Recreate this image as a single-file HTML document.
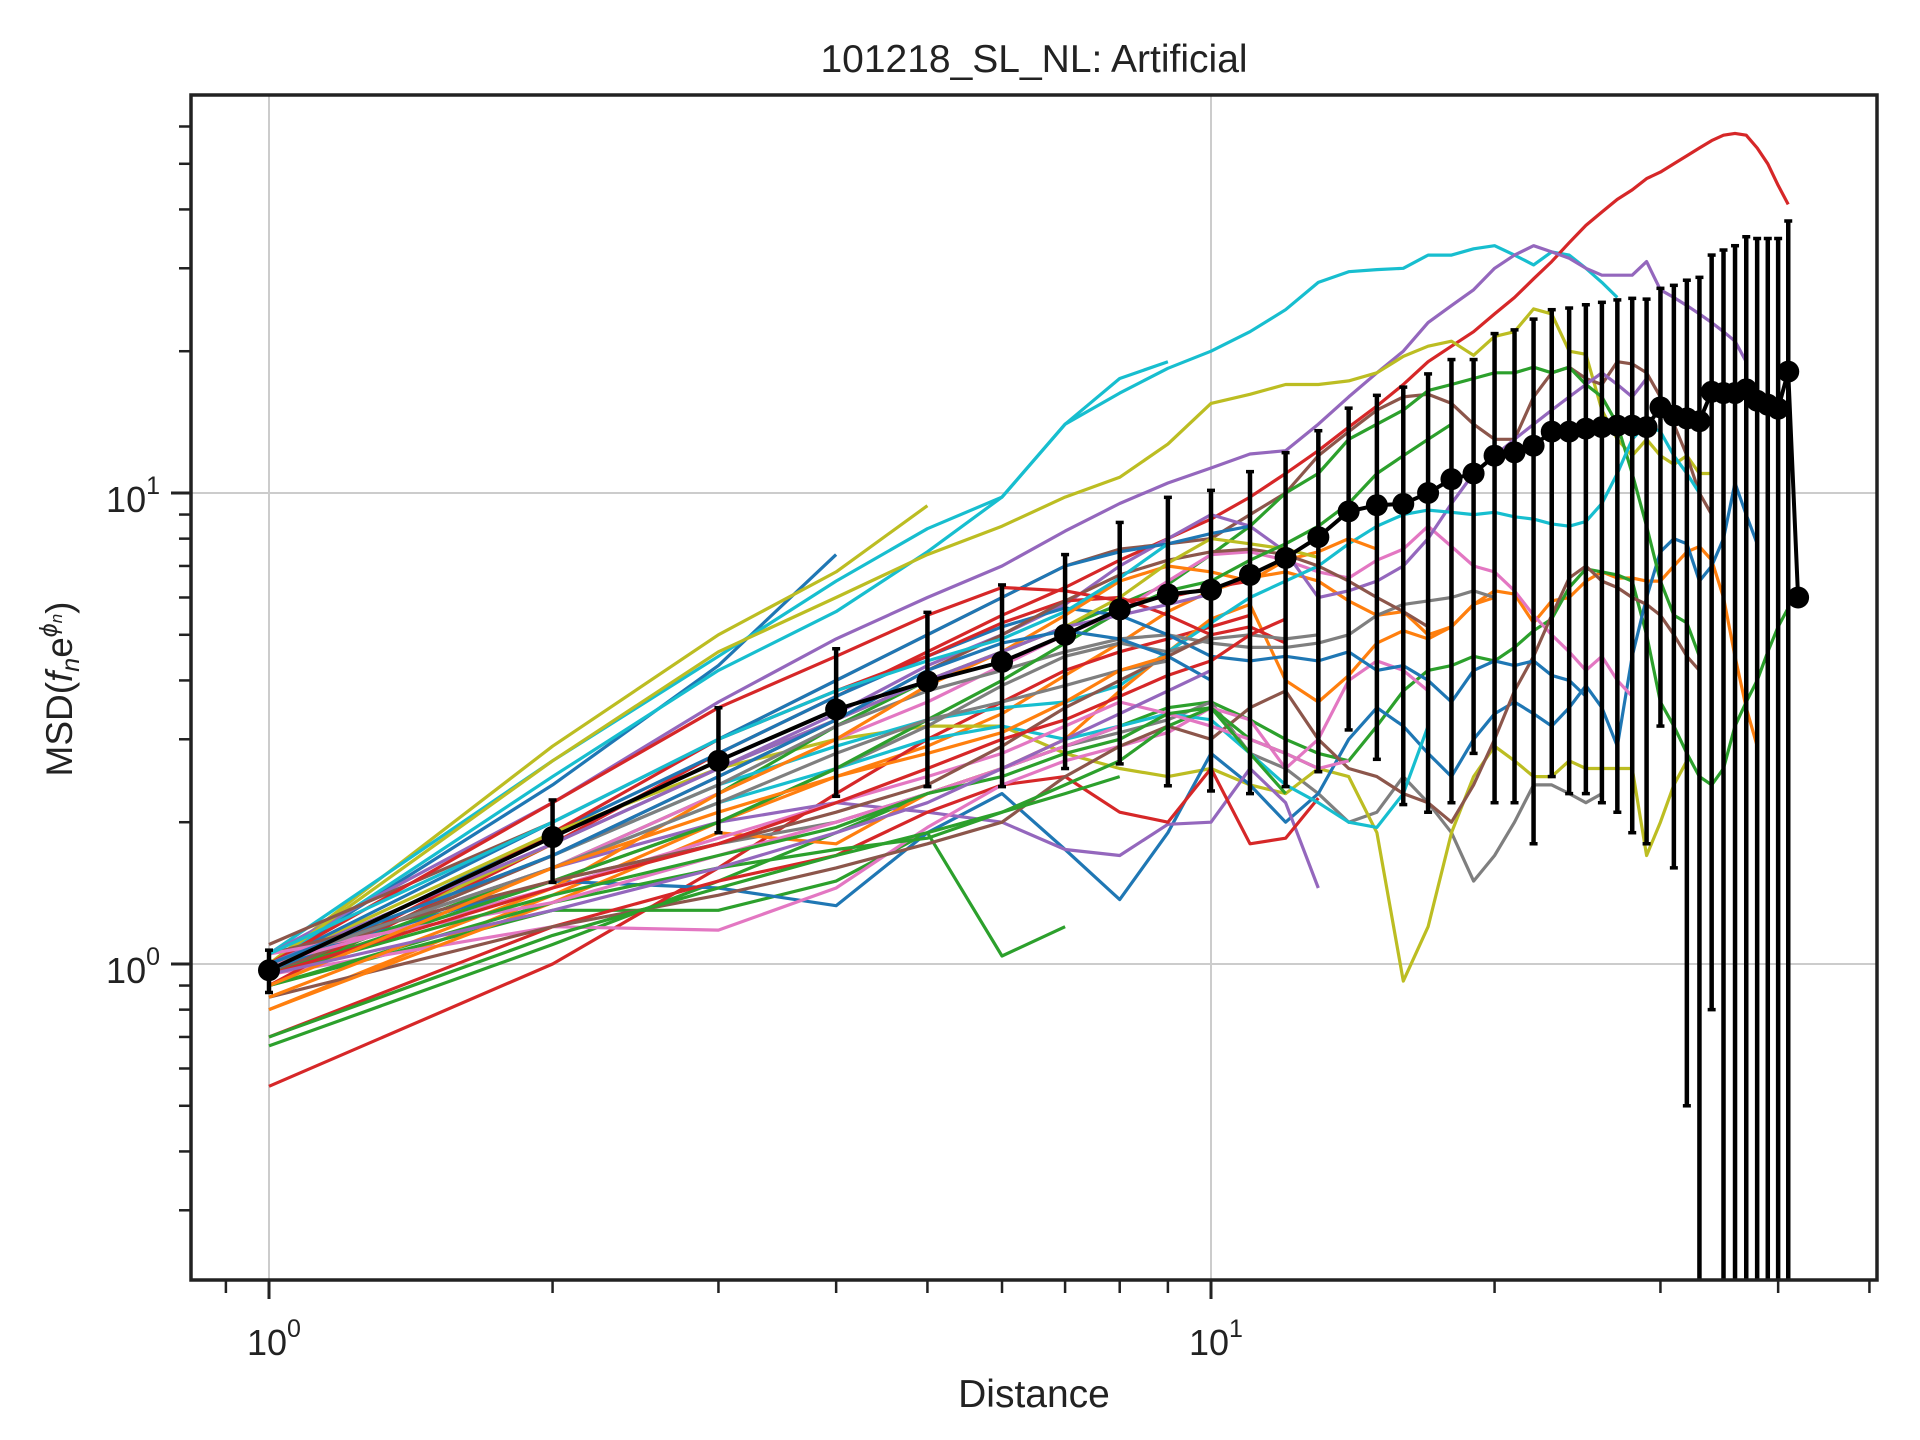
<!DOCTYPE html>
<html><head><meta charset="utf-8">
<style>
html,body{margin:0;padding:0;background:#fff;}
svg{display:block;font-family:"Liberation Sans","DejaVu Sans",sans-serif;}
</style></head>
<body>
<svg id="chart" width="1920" height="1440" viewBox="0 0 1920 1440" xmlns="http://www.w3.org/2000/svg">
<rect width="1920" height="1440" fill="#fff"/>
<text x="1034" y="72" font-size="39" text-anchor="middle" fill="#222">101218_SL_NL: Artificial</text>
<text x="1034" y="1407" font-size="39" text-anchor="middle" fill="#222">Distance</text>
<text transform="translate(72,689) rotate(-90)" font-size="37" text-anchor="middle" fill="#222">MSD(<tspan font-style="italic">f</tspan><tspan font-style="italic" font-size="25" dy="7">n</tspan><tspan dy="-7">e</tspan><tspan font-style="italic" font-size="25" dy="-15">ϕ</tspan><tspan font-style="italic" font-size="17" dy="5">n</tspan><tspan dy="10">)</tspan></text>
<g id="grid"></g>
<g id="series"></g>
<g id="mean"></g>
<g id="axes"></g>
</svg>
<script>
const meanX=[1,2,3,4,5,6,7,8,9,10,11,12,13,14,15,16,17,18,19,20,21,22,23,24,25,26,27,28,29,30,31,32,33,34,35,36,37,38,39,40,41,42];
const meanY=[0.97,1.86,2.7,3.47,3.98,4.38,5.0,5.66,6.09,6.23,6.7,7.28,8.06,9.14,9.42,9.48,10.0,10.7,11.0,12.0,12.2,12.6,13.5,13.5,13.7,13.8,13.9,13.9,13.8,15.2,14.6,14.4,14.2,16.4,16.3,16.3,16.6,15.7,15.4,15.1,18.1,6.0];
const meanErr=[0.1,0.37,0.8,1.2,1.6,2.0,2.4,3.0,3.7,3.9,4.4,4.9,5.5,6.0,6.7,7.3,7.9,8.5,8.2,9.8,10,10.8,11,11.2,11.4,11.6,11.8,12,12,12,13,13.9,14.5,15.6,16.5,17.2,18.4,19,19.3,19.6,19.7,0];
const xTickVals=[1,10];
const yTickVals=[1,10];
const seriesValues=[
[1.0,2.4,4.3,7.4],
[0.8,1.4,2.0,2.5,2.9,3.4,4.1,4.8,5.6,6.2,6.6,6.8,6.5,5.9,5.5,5.6,5.0,5.2,5.8,6.2,6.1,5.3,5.9,6.0,6.5,6.8,6.6,6.6,6.5,6.5,7.0,7.5,7.7,7.2,6.0,4.5,3.5,2.9],
[0.67,1.1,1.5,1.9,2.3,2.6,2.9,3.2,3.5,3.6,3.3,3.0,2.8,2.7,3.2,3.8,4.2,4.3,4.5,4.4,4.7,5.1,5.4,6.3,6.9,6.8,6.7,6.5,5.0,3.6,3.2,2.8,2.5,2.4,2.6,3.2,3.6,4.0,4.6,5.2,5.7],
[0.55,1.0,1.6,2.3,3.0,3.6,4.2,4.6,4.9,5.2,5.5],
[1.0,2.9,5.0,6.8,9.4],
[1.05,2.7,4.5,6.5,8.4,9.8,14,17.5,19],
[1.0,2.5,4.2,5.6,7.5,9.8,14,16.3,18.4,20,22,24.5,28,29.5,29.8,30,32,32,33,33.5,32,30.5,32.5,32,30,28,26],
[0.9,1.8,2.8,3.7,4.6,5.5,6.3,7.2,8.0,8.8,9.8,11,12.3,13.8,15.3,17,19,20.5,22,24,26,28.5,31,34,37,39.5,42,44,46.5,48,50,52,54,56,57.5,58,57.5,54,50,45,41],
[1.05,2.2,3.6,4.9,6.0,7.0,8.3,9.5,10.5,11.3,12.1,12.3,14,16,18,20,23,25,27,30,32,33.5,32.5,31.5,30,29,29,29,31,27,26,25,24,23,22,21,19],
[1.0,2.7,4.6,6.0,7.4,8.5,9.8,10.8,12.7,15.5,16.2,17,17,17.3,18,19.5,20.5,21,19.6,21.5,22,24.6,24,20,19.7,15,13,12,13,12,11.5,12,11,11],
[1.0,1.5,1.8,2.0,2.3,2.6,2.9,3.1,3.3,3.6,2.8,2.6,2.3,2.0,2.1,2.5,2.2,1.9,1.5,1.7,2.0,2.4,2.4,2.3,2.2,2.3],
[0.95,1.8,2.6,3.0,3.2,3.2,2.8,2.6,2.5,2.6,2.4,2.3,2.6,2.5,1.9,0.92,1.2,1.9,2.5,2.9,2.7,2.5,2.5,2.7,2.6,2.6,2.6,2.6,1.7,2.0,2.4,2.7],
[0.9,1.3,1.3,1.5,1.9,1.04,1.2],
[1.0,1.5,1.45,1.33,1.9,2.3,1.75,1.37,1.9,2.8,2.4,2.0,2.3,3.0,3.5,3.2,2.8,2.5,3.0,3.4,3.6,3.4,3.2,3.5,3.9,3.5,2.9,4.5,6.0,7.5,8.0,7.8,6.5,7.0,8.0,10.5,9.0,7.8],
[1.0,1.6,2.0,2.2,2.1,2.0,1.75,1.7,1.98,2.0,2.6,2.2,1.45],
[0.7,1.2,1.5,1.7,2.1,2.4,2.5,2.1,2.0,2.6,1.8,1.85,2.25],
[0.95,1.2,1.18,1.45,1.95,2.4,2.7,2.9,3.1,3.5,3.3,2.6,3.0,4.0,4.4,4.2,3.8],
[1.0,1.6,2.2,2.6,3.0,3.2,3.0,3.2,3.4,3.3,2.8,2.4,2.2,2.0,1.95,2.3,3.2],
[1.1,2.0,3.0,4.0,5.0,6.0,7.0,7.6,7.8,8.0,9.0,10,12,13.5,15,16,16.2,15.5,14,13,13,16,18,18.5,17.5,17,19,18.8,18,16,14,12,10,9],
[0.95,1.6,2.3,3.2,4.0,4.6,5.2,5.8,6.4,7.4,8.5,10,11,13,14,15,16.5,17,17.5,18,18,18.5,18,18.5,17,16,14,11,8.5,6.5,5.5,5.3,4.5],
[1.0,1.6,2.3,3.0,3.6,4.3,5.0,5.6,6.5,7.4,7.5,7.2,6.8,6.6,7.2,7.6,8.5,7.7,7.0,6.8,6.2,5.5,5.0,4.6,4.2,4.5,4.0,3.7],
[0.85,1.2,1.4,1.6,1.8,2.0,2.5,2.9,3.2,3.0,3.5,3.8,3.0,2.6,2.5,2.3,2.2,2.0,2.4,3.0,3.8,4.5,5.5,6.6,7.0,6.5,6.3,6.0,5.8,5.5,5.0,4.5,4.2],
[0.8,1.35,1.9,1.8,2.3,2.6,3.0,3.8,4.6,5.4,5.8,4.0,3.6,4.1,4.8,5.1,4.9,5.2,5.8,6.0],
[1.0,1.8,2.6,3.4,4.3,5.0,5.8,7.0,8.0,9.0,8.5,7.5,6.0,6.2,6.5,7.0,8.0,9.5,11,12,13,14,15,16,17,18,17,16,17.5],
[1.0,1.7,2.4,2.9,3.3,3.5,3.6,3.9,4.6,5.3,6.0,6.5,7.0,7.8,8.5,9.0,9.2,9.1,9.0,9.1,8.9,8.8,8.6,8.5,8.7,9.5,11,13,14,13.5,12,11,10],
[1.0,1.7,2.4,3.2,3.8,4.2,4.6,4.9,5.0,4.8,4.7,4.7,4.8,5.0,5.5,5.8,5.9,6.0,6.2,6.0],
[0.95,1.9,2.8,3.7,4.5,5.2,5.7,5.5,5.0,4.5,4.4,4.5,4.4,4.6,4.2,4.3,4.0,3.6,4.2,4.4,4.3,4.4,4.1,4.0,3.7],
[0.9,1.9,3.0,3.8,4.5,5.3,5.9,6.0,5.5,5.0,5.2,4.8],
[0.9,1.35,1.6,1.75,1.85,2.1,2.4,2.7,3.2,3.5,3.0,2.8,2.6],
[0.85,1.45,2.3,3.0,3.9,4.6,5.5,6.5,7.0,6.8,6.5,7.2,7.5,8.0,7.6],
[0.95,1.7,2.5,3.3,4.2,5.0,5.9,6.7,7.2,7.5,7.6,7.4,7.0,6.5,6.0,5.6,5.2],
[1.0,1.45,1.85,2.2,2.5,2.8,3.2,3.6,3.4,3.2,3.0,2.8,2.6,2.7],
[0.95,1.5,2.0,2.6,3.2,3.9,4.5,4.8,4.6,4.9,5.0,4.9,5.0],
[1.0,1.9,2.6,3.3,4.0,4.6,5.2,6.0,7.1,8.0,7.8,7.6,7.3],
[1.0,2.0,3.0,4.0,5.0,6.0,7.0,7.5,7.8,8.2,8.5],
[1.0,2.2,3.5,4.5,5.5,6.3,6.2,5.9,6.0,6.3,6.5],
[0.95,1.5,2.0,2.6,3.3,4.0,4.8,5.6,6.2,6.5,7.2,7.8,8.5,9.5,11,12,13,14],
[1.0,1.8,2.6,3.3,4.0,4.6,5.2,5.5,5.8,6.1],
[1.05,1.5,1.8,2.1,2.4,2.9,3.5,4.0,4.5,5.0],
[1.05,1.35,1.7,2.0,2.3,2.6,2.9,3.2],
[1.0,1.6,2.2,2.8,3.3,3.6,3.9,4.2,4.4],
[1.05,2.0,3.0,3.8,4.4,4.9,5.6,6.6,7.8],
[0.95,1.4,1.7,1.95,2.3,2.5,2.8,3.0,3.4,3.5,2.8,2.3],
[0.95,1.45,1.8,2.2,2.6,3.0,3.3,3.7,4.1,4.4,5.0,5.4],
[1.0,1.7,2.5,3.3,4.2,4.8,5.1,4.9,4.5,4.0],
[0.9,1.6,2.1,2.5,2.8,3.1,3.6,4.2,4.5],
[0.95,1.3,1.6,1.9,2.2,2.6,3.0,3.4,3.8,4.2],
[0.7,1.15,1.45,1.7,1.9,2.1,2.3,2.5]
];
const seriesColors=['#1f77b4','#ff7f0e','#2ca02c','#d62728','#bcbd22','#17becf','#17becf','#d62728','#9467bd','#bcbd22','#7f7f7f','#bcbd22','#2ca02c','#1f77b4','#9467bd','#d62728','#e377c2','#17becf','#8c564b','#2ca02c','#e377c2','#8c564b','#ff7f0e','#9467bd','#17becf','#7f7f7f','#1f77b4','#d62728','#2ca02c','#ff7f0e','#8c564b','#e377c2','#7f7f7f','#bcbd22','#1f77b4','#d62728','#2ca02c','#9467bd','#8c564b','#e377c2','#7f7f7f','#17becf','#2ca02c','#d62728','#1f77b4','#ff7f0e','#9467bd','#2ca02c'];

const L=191,R=1877,T=95,B=1280;
const X0=269,XD=942,Y0=964,YD=471;
function xs(v){return X0+XD*Math.log10(v);}
function ys(v){return Y0-YD*Math.log10(v);}
const NS='http://www.w3.org/2000/svg';
function mk(tag,parent,attrs){const e=document.createElementNS(NS,tag);for(const k in attrs)e.setAttribute(k,attrs[k]);parent.appendChild(e);return e;}
const grid=document.getElementById('grid'),ser=document.getElementById('series'),mean=document.getElementById('mean'),axes=document.getElementById('axes');

xTickVals.forEach(v=>{const g=mk('line',grid,{x1:xs(v),x2:xs(v),y1:T,y2:B,stroke:'#cccccc','stroke-width':2});

});
yTickVals.forEach(v=>{const g=mk('line',grid,{x1:L,x2:R,y1:ys(v),y2:ys(v),stroke:'#cccccc','stroke-width':2});

});

const defs=mk('defs',document.getElementById('chart'),{});
const cp=mk('clipPath',defs,{id:'clip'});mk('rect',cp,{x:L,y:T,width:R-L,height:B-T});
ser.setAttribute('clip-path','url(#clip)');mean.setAttribute('clip-path','url(#clip)');

seriesValues.forEach((vals,i)=>{
  const pts=vals.map((v,j)=>xs(j+1).toFixed(1)+','+ys(v).toFixed(1)).join(' ');
  const p=mk('polyline',ser,{points:pts,fill:'none',stroke:seriesColors[i%seriesColors.length],'stroke-width':3.2,'stroke-linejoin':'round'});
  
  
});

meanX.forEach((x,i)=>{
  if(meanErr[i]<=0)return;
  const lo=meanY[i]-meanErr[i],hi=meanY[i]+meanErr[i];
  const y2=lo>0?ys(lo):B+10,y1=ys(hi);
  const e=mk('line',mean,{x1:xs(x),x2:xs(x),y1:y1,y2:y2,stroke:'#000','stroke-width':4.5});
  
  
  mk('line',mean,{x1:xs(x)-4,x2:xs(x)+4,y1:y1,y2:y1,stroke:'#000','stroke-width':3.5});
  if(lo>0)mk('line',mean,{x1:xs(x)-4,x2:xs(x)+4,y1:y2,y2:y2,stroke:'#000','stroke-width':3.5});
});
const mpts=meanX.map((x,i)=>xs(x).toFixed(1)+','+ys(meanY[i]).toFixed(1)).join(' ');
const ml=mk('polyline',mean,{points:mpts,fill:'none',stroke:'#000','stroke-width':4});


meanX.forEach((x,i)=>{
  const c=mk('circle',mean,{cx:xs(x),cy:ys(meanY[i]),r:11,fill:'#000'});
  
  
});

const fr=mk('rect',axes,{x:L,y:T,width:R-L,height:B-T,fill:'none',stroke:'#222','stroke-width':3.5});



const xMinor=[0.9,2,3,4,5,6,7,8,9,20,30,40,50];
xMinor.forEach(v=>{mk('line',axes,{x1:xs(v),x2:xs(v),y1:B,y2:B+13,stroke:'#222','stroke-width':2.5});});
xTickVals.forEach(v=>{mk('line',axes,{x1:xs(v),x2:xs(v),y1:B,y2:B+19,stroke:'#222','stroke-width':3});
  const t=mk('text',axes,{x:xs(v)-22,y:1355,'font-size':36,fill:'#222'});
  
  
  t.innerHTML='10<tspan font-size="25" dy="-18">'+Math.round(Math.log10(v))+'</tspan>';});
const yMinor=[0.3,0.4,0.5,0.6,0.7,0.8,0.9,2,3,4,5,6,7,8,9,20,30,40,50,60];
yMinor.forEach(v=>{mk('line',axes,{x1:L-12,x2:L,y1:ys(v),y2:ys(v),stroke:'#222','stroke-width':2.5});});
yTickVals.forEach(v=>{mk('line',axes,{x1:L-20,x2:L,y1:ys(v),y2:ys(v),stroke:'#222','stroke-width':3});
  const t=mk('text',axes,{x:L-31,y:ys(v)+19,'font-size':36,'text-anchor':'end',fill:'#222'});
  
  
  t.innerHTML='10<tspan font-size="25" dy="-18">'+Math.round(Math.log10(v))+'</tspan>';});
</script>
</body></html>
